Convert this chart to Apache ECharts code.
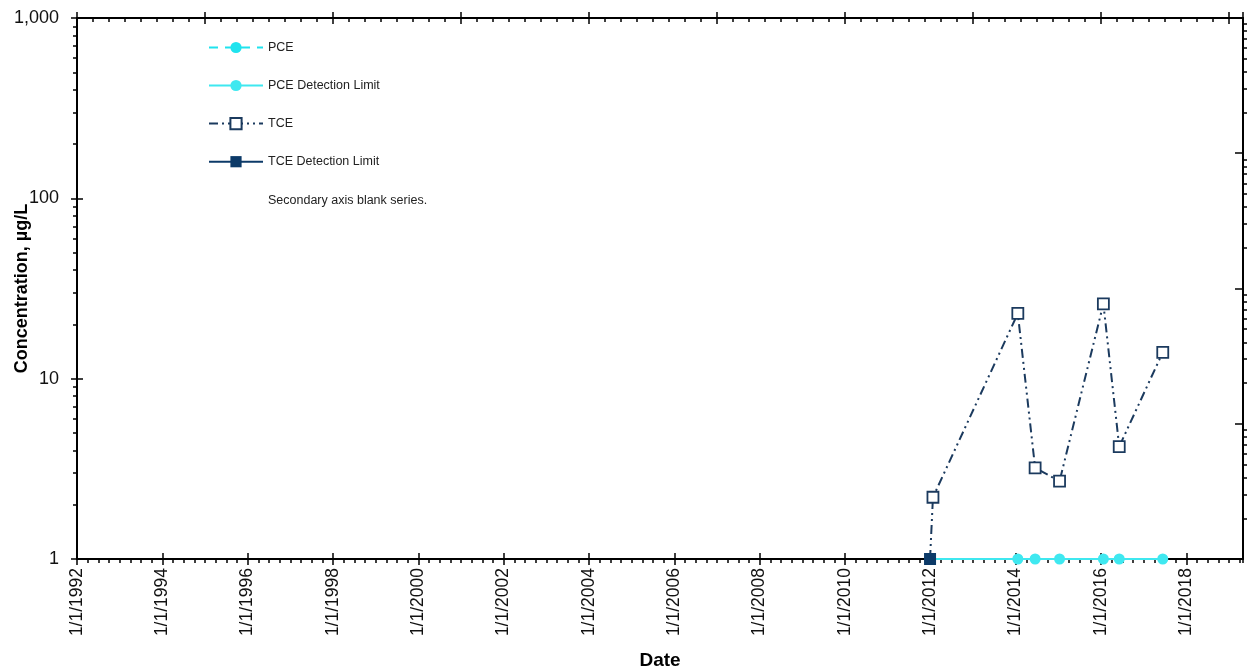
<!DOCTYPE html>
<html>
<head>
<meta charset="utf-8">
<script src="https://cdn.jsdelivr.net/npm/echarts@6/dist/echarts.min.js"></script>
<style>
html,body{margin:0;padding:0;background:#fff;}
#chart{width:1249px;height:672px;}
</style>
</head>
<body>
<div id="chart"></div>
<script>
// ---- data ----
const tceDates = ['2011-12-30', '2012-01-24', '2014-01-20', '2014-06-17', '2015-01-12', '2016-01-22', '2016-06-06', '2017-06-14'];
const tceValues = [1, 2.2, 23, 3.2, 2.7, 26, 4.2, 14];
const tceShowSymbol = [false, true, true, true, true, true, true, true];

const tceDLDates = ['2011-12-30'];
const tceDLValues = [1];

const pceDLDates = ['2011-12-30', '2014-01-20', '2014-06-17', '2015-01-12', '2016-01-22', '2016-06-06', '2017-06-14'];
const pceDLValues = [1, 1, 1, 1, 1, 1, 1];

const pceDates = [];
const pceValues = [];

const yTickValues = [1, 10, 100, 1000];
const xMinYear = 1992;
const xMaxYear = 2019.33;

// ---- helpers ----
function decYear(s) {
  const d = new Date(s + 'T00:00:00Z');
  const y = d.getUTCFullYear();
  const a = Date.UTC(y, 0, 1), b = Date.UTC(y + 1, 0, 1);
  return y + (d.getTime() - a) / (b - a);
}
function pairs(dates, vals) { return dates.map((d, i) => [decYear(d), vals[i]]); }
function logMinors(lo, hi) {
  const out = [];
  for (let dec = lo; dec < hi; dec *= 10) for (let k = 2; k <= 9; k++) out.push(+(dec * k).toPrecision(6));
  return out;
}

const FONT = 'Liberation Sans, Arial, sans-serif';
const BLACK = '#000';
const TCE_COLOR = '#1b3a5e';
const TCE_DL_COLOR = '#0c3a68';
const PCE_COLOR = '#1fe3ee';
const PCE_DL_COLOR = '#3fe8f0';

const chart = echarts.init(document.getElementById('chart'), null, {renderer: 'canvas'});

function hiddenX(pos, interval, len, inside) {
  return {
    type: 'value', position: pos, min: xMinYear, max: xMaxYear, interval: interval,
    axisLine: {show: false}, axisLabel: {show: false}, splitLine: {show: false},
    axisTick: {show: true, inside: inside, length: len, lineStyle: {color: BLACK, width: 1.5}}
  };
}
function hiddenY(type, pos, min, max, tickOpts) {
  return Object.assign({
    type: type, position: pos, min: min, max: max, logBase: 10,
    axisLine: {show: false}, axisLabel: {show: false}, splitLine: {show: false}
  }, tickOpts);
}

const option = {
  backgroundColor: '#fff',
  animation: false,
  grid: {left: 77, right: 6, top: 18, bottom: 113, containLabel: false, outerBoundsMode: 'none'},
  legend: {
    orient: 'vertical', left: 203, top: 36, itemWidth: 54, itemHeight: 14, itemGap: 25,
    textStyle: {fontFamily: FONT, fontSize: 12.5, color: '#222'},
    data: [
      {name: 'PCE'},
      {name: 'PCE Detection Limit'},
      {name: 'TCE'},
      {name: 'TCE Detection Limit'},
      {name: 'Secondary axis blank series.', icon: 'none'}
    ]
  },
  xAxis: [
    {
      type: 'value', position: 'bottom', min: xMinYear, max: xMaxYear, interval: 2,
      name: 'Date', nameLocation: 'middle', nameGap: 92, nameMoveOverlap: false,
      nameTextStyle: {fontFamily: FONT, fontSize: 19, fontWeight: 'bold', color: BLACK},
      axisLine: {show: true, onZero: false, lineStyle: {color: BLACK, width: 2}},
      axisTick: {show: true, length: 6, lineStyle: {color: BLACK, width: 1.5}},
      splitLine: {show: false},
      axisLabel: {
        rotate: 90, margin: 9, fontFamily: FONT, fontSize: 17.5, color: '#111',
        showMaxLabel: false,
        formatter: v => (Math.abs(v - Math.round(v)) < 1e-6 && Math.round(v) % 2 === 0) ? '1/1/' + Math.round(v) : ''
      }
    },
    hiddenX('bottom', 2, 6, true),
    hiddenX('bottom', 0.25, 4, false),
    {
      type: 'value', position: 'top', min: xMinYear, max: xMaxYear, interval: 3,
      axisLine: {show: true, onZero: false, lineStyle: {color: BLACK, width: 2}},
      axisLabel: {show: false}, splitLine: {show: false},
      axisTick: {show: true, inside: true, length: 6, lineStyle: {color: BLACK, width: 1.5}}
    },
    hiddenX('top', 3, 6, false),
    hiddenX('top', 0.375, 4, true)
  ],
  yAxis: [
    {
      type: 'log', logBase: 10, position: 'left', min: 1, max: 1000,
      name: 'Concentration, \u00b5g/L', nameLocation: 'middle', nameGap: 46, nameMoveOverlap: false,
      nameTextStyle: {fontFamily: FONT, fontSize: 18, fontWeight: 'bold', color: BLACK},
      axisLine: {show: true, onZero: false, lineStyle: {color: BLACK, width: 2}},
      axisTick: {show: true, length: 6, customValues: yTickValues, lineStyle: {color: BLACK, width: 1.5}},
      splitLine: {show: false},
      axisLabel: {
        margin: 18, fontFamily: FONT, fontSize: 18, color: '#111',
        customValues: yTickValues,
        formatter: v => Number(v).toLocaleString('en-US')
      }
    },
    hiddenY('log', 'left', 1, 1000, {axisTick: {show: true, inside: true, length: 6, customValues: yTickValues, lineStyle: {color: BLACK, width: 1.5}}}),
    hiddenY('log', 'left', 1, 1000, {axisTick: {show: true, inside: false, length: 4, customValues: logMinors(1, 1000), lineStyle: {color: BLACK, width: 1.5}}}),
    {
      type: 'log', logBase: 10, position: 'right', min: 0.1, max: 1000,
      axisLine: {show: true, onZero: false, lineStyle: {color: BLACK, width: 2}},
      axisLabel: {show: false}, splitLine: {show: false},
      axisTick: {show: true, inside: true, length: 8, customValues: [0.1, 1, 10, 100, 1000], lineStyle: {color: BLACK, width: 1.5}}
    },
    hiddenY('log', 'right', 0.1, 1000, {axisTick: {show: true, inside: false, length: 4, customValues: logMinors(0.1, 1000), lineStyle: {color: BLACK, width: 1.5}}})
  ],
  series: [
    {
      name: 'PCE', type: 'line', xAxisIndex: 0, yAxisIndex: 0,
      data: pairs(pceDates, pceValues),
      symbol: 'circle', symbolSize: 9, color: PCE_COLOR,
      lineStyle: {color: PCE_COLOR, width: 2.5, type: [9, 7]},
      itemStyle: {color: PCE_COLOR}
    },
    {
      name: 'PCE Detection Limit', type: 'line', xAxisIndex: 0, yAxisIndex: 0,
      data: pairs(pceDLDates, pceDLValues),
      symbol: 'circle', symbolSize: 11, color: PCE_DL_COLOR, z: 3,
      lineStyle: {color: PCE_DL_COLOR, width: 2, type: 'solid'},
      itemStyle: {color: PCE_DL_COLOR}
    },
    {
      name: 'TCE', type: 'line', xAxisIndex: 0, yAxisIndex: 0,
      data: pairs(tceDates, tceValues).map((p, i) => ({value: p, symbol: tceShowSymbol[i] ? 'rect' : 'none'})),
      symbol: 'rect', symbolSize: 11, showAllSymbol: true, color: TCE_COLOR, z: 4,
      lineStyle: {color: TCE_COLOR, width: 2, type: [9, 4, 2, 4, 2, 4]},
      itemStyle: {color: '#fff', borderColor: TCE_COLOR, borderWidth: 1.8}
    },
    {
      name: 'TCE Detection Limit', type: 'line', xAxisIndex: 0, yAxisIndex: 0,
      data: pairs(tceDLDates, tceDLValues),
      symbol: 'rect', symbolSize: 12, color: TCE_DL_COLOR, z: 6,
      lineStyle: {color: TCE_DL_COLOR, width: 1.2, type: 'solid'},
      itemStyle: {color: TCE_DL_COLOR}
    },
    {
      name: 'Secondary axis blank series.', type: 'line', xAxisIndex: 0, yAxisIndex: 3,
      data: [], symbol: 'none', color: 'rgba(0,0,0,0)',
      lineStyle: {width: 0}
    }
  ]
};
chart.setOption(option);
</script>
</body>
</html>
